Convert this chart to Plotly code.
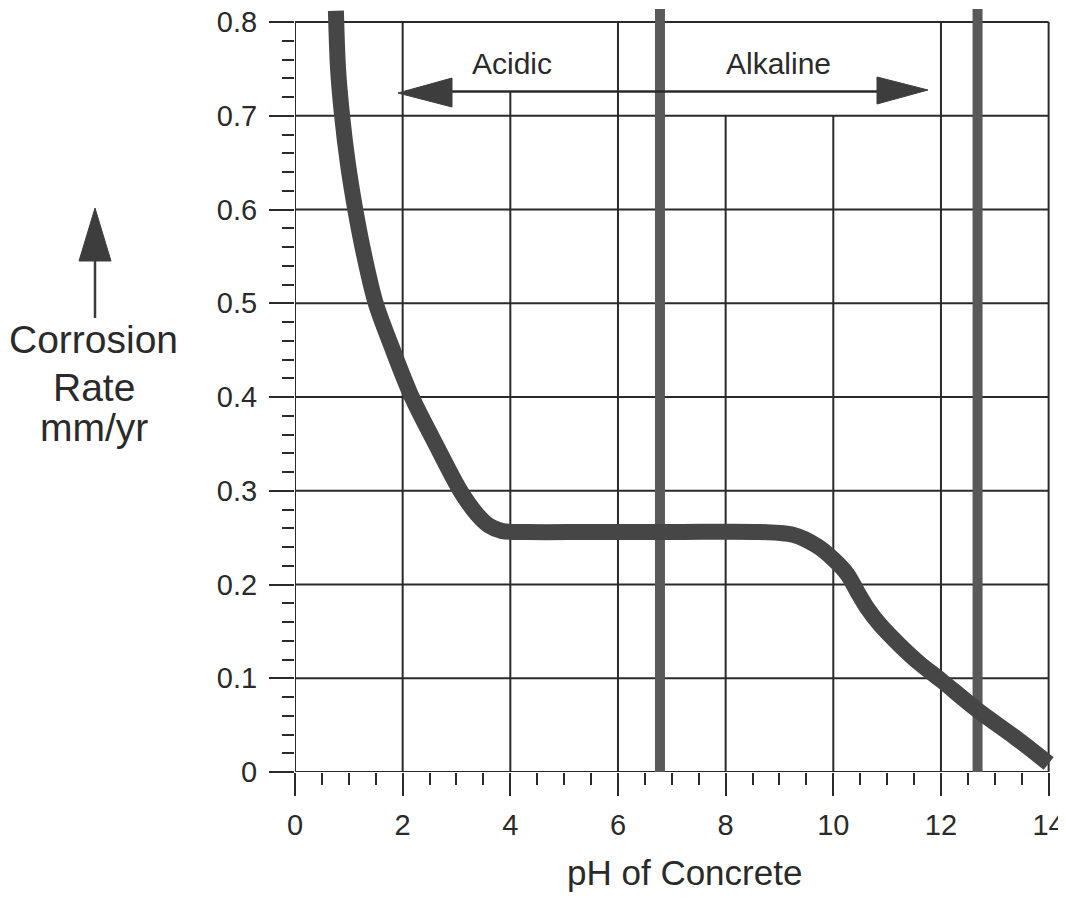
import plotly.graph_objects as go

# ---- data ----
ph = [0.76, 0.80, 0.875, 0.98, 1.12, 1.29, 1.50, 1.82, 2.17, 2.61, 3.07, 3.38, 3.6,
      3.85, 4.3, 5.5, 7.0, 8.64, 9.25, 9.7, 10.0, 10.26, 10.44, 10.63, 10.87, 11.24,
      11.6, 12.0, 12.68, 13.4, 14.0]
rate = [0.812, 0.75, 0.70, 0.65, 0.60, 0.55, 0.50, 0.45, 0.40, 0.35, 0.30, 0.275, 0.263,
        0.257, 0.256, 0.256, 0.256, 0.256, 0.253, 0.241, 0.227, 0.211, 0.193, 0.175,
        0.157, 0.135, 0.116, 0.098, 0.066, 0.036, 0.009]
boundary_ph = [6.78, 12.68]
x_ticks = [0, 2, 4, 6, 8, 10, 12, 14]
x_tick_labels = ["0", "2", "4", "6", "8", "10", "12", "14"]
y_ticks = [0, 0.1, 0.2, 0.3, 0.4, 0.5, 0.6, 0.7, 0.8]
y_tick_labels = ["0", "0.1", "0.2", "0.3", "0.4", "0.5", "0.6", "0.7", "0.8"]
grid_x_tops = [0.8, 0.8, 0.726, 0.8, 0.7, 0.7, 0.8, 0.8]

# ---- layout geometry (reference pixel coords; page body adds an 8px offset) ----
OFF = 8
FIG_W, FIG_H = 1066 - OFF, 901 - 2 * OFF
L, T, W, H = 295, 8, 759, 764          # plot area in screenshot pixels
X0, X1 = 0.0, 14.1
Y0, Y1 = 0.0, 0.815

def dx(px):
    return X0 + (px - L) / W * (X1 - X0)

def dy(py):
    return Y0 + (T + H - py) / H * (Y1 - Y0)

def paper(px, py):
    return (px - L) / W, (T + H - py) / H

FONT = "Liberation Sans, Arial, Helvetica, sans-serif"
INK = "#2a2a2a"
GRID = "#2a2a2a"

fig = go.Figure()

for b in boundary_ph:
    fig.add_trace(go.Scatter(x=[b, b], y=[-0.01, 0.814], mode="lines",
                             line=dict(color="#595959", width=10),
                             hoverinfo="skip", showlegend=False))

fig.add_trace(go.Scatter(x=ph, y=rate, mode="lines",
                         line=dict(color="#464646", width=16, shape="spline", smoothing=0.9),
                         showlegend=False))

shapes = []
for xv, top in zip(x_ticks, grid_x_tops):
    shapes.append(dict(type="line", xref="x", yref="y", x0=xv, x1=xv, y0=0, y1=top,
                       line=dict(color=GRID, width=2), layer="below"))
for yv in y_ticks:
    shapes.append(dict(type="line", xref="x", yref="y", x0=0, x1=14, y0=yv, y1=yv,
                       line=dict(color=GRID, width=2), layer="below"))

# Acidic / Alkaline double arrow
ya = dy(91.5)
shapes.append(dict(type="line", xref="x", yref="y", x0=dx(440), x1=dx(885), y0=ya, y1=ya,
                   line=dict(color=GRID, width=2.5)))
shapes.append(dict(type="path", xref="x", yref="y",
                   path=f"M {dx(398)} {dy(93)} L {dx(452)} {dy(78)} L {dx(452)} {dy(107)} Z",
                   fillcolor="#3d3d3d", line=dict(color="#3d3d3d", width=1)))
shapes.append(dict(type="path", xref="x", yref="y",
                   path=f"M {dx(928)} {dy(90)} L {dx(877)} {dy(77)} L {dx(877)} {dy(104)} Z",
                   fillcolor="#3d3d3d", line=dict(color="#3d3d3d", width=1)))

# up arrow on left
ax0, ay0 = paper(95, 318)
ax1, ay1 = paper(95, 255)
shapes.append(dict(type="line", xref="paper", yref="paper", x0=ax0, x1=ax1, y0=ay0, y1=ay1,
                   line=dict(color="#3a3a3a", width=2.5)))
tx, ty = paper(95, 208)
bl = paper(79, 261)
br = paper(111, 261)
shapes.append(dict(type="path", xref="paper", yref="paper",
                   path=f"M {tx} {ty} L {bl[0]} {bl[1]} L {br[0]} {br[1]} Z",
                   fillcolor="#3d3d3d", line=dict(color="#3d3d3d", width=1)))

annotations = []
def add_text(text, px, py, size):
    x, y = paper(px, py)
    annotations.append(dict(text=text, xref="paper", yref="paper", x=x, y=y,
                            xanchor="center", yanchor="middle", showarrow=False,
                            font=dict(family=FONT, size=size, color=INK)))

add_text("Corrosion", 94, 339, 39)
add_text("Rate", 94, 387, 39)
add_text("mm/yr", 94, 427, 39)
add_text("pH of Concrete", 684, 872, 35)
add_text("Acidic", 512, 63, 30)
add_text("Alkaline", 778, 63, 30)

fig.update_layout(
    width=FIG_W, height=FIG_H,
    margin=dict(l=L - OFF, r=FIG_W - (L - OFF) - W, t=T - OFF, b=FIG_H - (T - OFF) - H,
                pad=0, autoexpand=False),
    paper_bgcolor="white", plot_bgcolor="white",
    shapes=shapes, annotations=annotations,
    font=dict(family=FONT, color=INK),
)
fig.update_xaxes(range=[X0, X1], tickvals=x_ticks, ticktext=x_tick_labels, automargin=False,
                 ticks="outside", ticklen=23, tickwidth=2, tickcolor=GRID,
                 tickfont=dict(family=FONT, size=29, color=INK), ticklabelstandoff=4,
                 ticklabeloverflow="allow",
                 minor=dict(ticks="outside", ticklen=12, tickwidth=2, tickcolor=GRID,
                            dtick=0.5, tick0=0, showgrid=False),
                 showgrid=False, zeroline=False, showline=False, fixedrange=True)
fig.update_yaxes(range=[Y0, Y1], tickvals=y_ticks, ticktext=y_tick_labels, automargin=False,
                 ticks="outside", ticklen=25, tickwidth=2, tickcolor=GRID,
                 tickfont=dict(family=FONT, size=29, color=INK), ticklabelstandoff=6,
                 ticklabeloverflow="allow",
                 minor=dict(ticks="outside", ticklen=12, tickwidth=2, tickcolor=GRID,
                            dtick=0.02, tick0=0, showgrid=False),
                 showgrid=False, zeroline=False, showline=False, fixedrange=True)

fig.write_html("out.html")
